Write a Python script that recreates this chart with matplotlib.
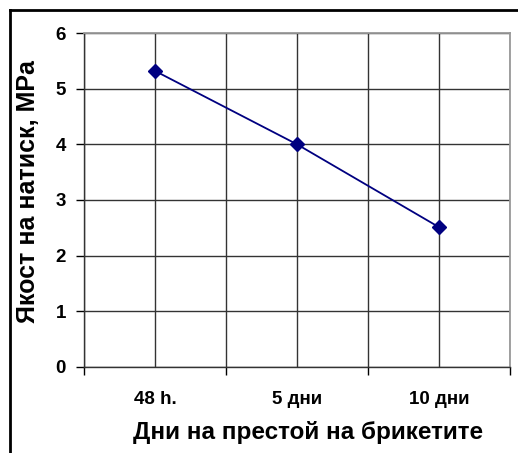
import matplotlib
matplotlib.use("Agg")
import matplotlib.pyplot as plt
from matplotlib.lines import Line2D

# Data
categories = ["48 h.", "5 дни", "10 дни"]
strength = [5.32, 4.0, 2.51]
y_ticks = [0, 1, 2, 3, 4, 5, 6]

plt.rcParams["font.family"] = ["Liberation Sans", "DejaVu Sans"]
plt.rcParams["font.weight"] = "bold"

fig = plt.figure(figsize=(5.18, 4.53), dpi=100)
ax = fig.add_axes([0.162, 0.190, 0.823, 0.737])

x = list(range(len(categories)))
ax.plot(x, strength, color="#000080", lw=1.3, marker="D", ms=7,
        markerfacecolor="#000080", markeredgecolor="#000080", zorder=3)

ax.set_xlim(-0.5, len(categories) - 0.5)
ax.set_ylim(0, 6)
ax.set_yticks(y_ticks)
ax.set_yticklabels([str(v) for v in y_ticks], fontsize=13.5, fontweight="bold")

# category labels at centres, tick marks at boundaries
ax.set_xticks(x)
ax.set_xticklabels(categories, fontsize=13.5, fontweight="bold")
ax.set_xticks([i - 0.5 for i in range(len(categories) + 1)], minor=True)
ax.tick_params(axis="x", which="major", length=0, pad=17)
ax.tick_params(axis="x", which="minor", length=6, width=1, direction="out")
ax.tick_params(axis="y", length=6, width=1, direction="out", pad=7)

ax.grid(True, which="both", color="#333333", lw=1)
ax.set_axisbelow(True)

for side in ["top", "right"]:
    ax.spines[side].set_color("#999999")
    ax.spines[side].set_linewidth(1.3)
for side in ["left", "bottom"]:
    ax.spines[side].set_color("#333333")
    ax.spines[side].set_linewidth(1)

ax.set_xlabel("Дни на престой на брикетите", fontsize=17.5, fontweight="bold", va="center")
ax.set_ylabel("Якост на натиск, MPa", fontsize=18, fontweight="bold", va="center")
ax.xaxis.set_label_coords(0.526, -0.195)
ax.yaxis.set_label_coords(-0.13, 0.525)

# outer frame (left and top edges visible)
fig.add_artist(Line2D([0.020, 0.020], [0.0, 0.978], transform=fig.transFigure, color="black", lw=2))
fig.add_artist(Line2D([0.019, 1.0], [0.978, 0.978], transform=fig.transFigure, color="black", lw=2))

fig.savefig("out.png", dpi=100)
